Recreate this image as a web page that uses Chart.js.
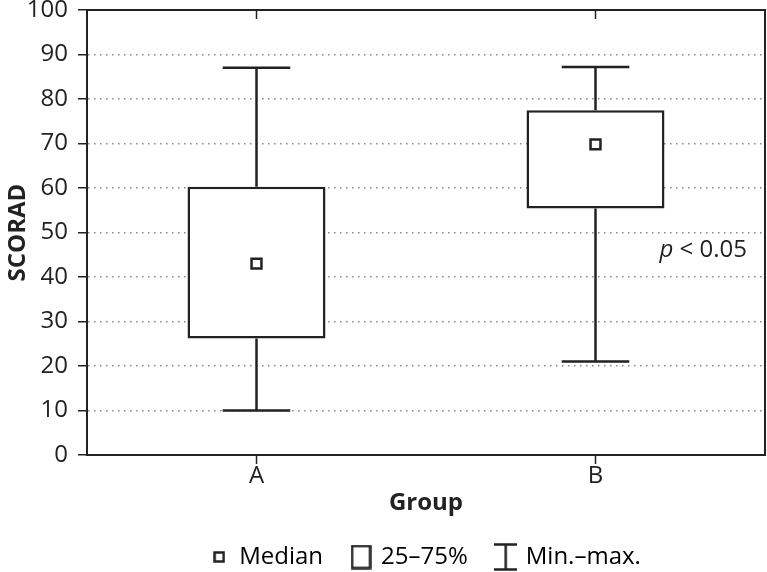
<!DOCTYPE html>
<html>
<head>
<meta charset="utf-8">
<script src="https://cdn.jsdelivr.net/npm/chart.js@4/dist/chart.umd.min.js"></script>
<style>
html,body{margin:0;padding:0;background:#fff;}
#wrap{width:767px;height:572px;position:relative;}
</style>
</head>
<body>
<div id="wrap"><canvas id="c" width="767" height="572"></canvas></div>
<script>
const categories = ['A', 'B'];
const minVals    = [10.0, 21.0];
const q1Vals     = [26.2, 55.4];
const medianVals = [43.0, 69.8];
const q3Vals     = [60.3, 77.5];
const maxVals    = [87.0, 87.2];
const yMin = 0, yMax = 100, yStep = 10;
const legendLabels = ['Median', '25\u201375%', 'Min.\u2013max.'];
const annotationText = ['p', ' < 0.05'];
const annotationValue = 46;

const INK = '#222';
const FONT = "'Open Sans', sans-serif";
const FS = 24;

function icon(w, h, draw) {
  const c = document.createElement('canvas');
  c.width = w; c.height = h;
  const g = c.getContext('2d');
  g.strokeStyle = INK; g.lineWidth = 2.5; g.fillStyle = '#fff';
  draw(g, w, h);
  return c;
}
const medIcon = icon(12, 12, (g) => { g.fillRect(0,0,12,12); g.strokeRect(1.5,1.5,9,9); });
const boxIcon = icon(21, 25, (g) => { g.fillRect(0,0,21,25); g.strokeRect(1.5,1.5,18,22); });
const whiskIcon = icon(23, 28, (g, w, h) => {
  g.beginPath();
  g.moveTo(0,1.5); g.lineTo(w,1.5);
  g.moveTo(w/2,1.5); g.lineTo(w/2,h-1.5);
  g.moveTo(0,h-1.5); g.lineTo(w,h-1.5);
  g.stroke();
});
const legendIcons = [medIcon, boxIcon, whiskIcon];

const whiskerPlugin = {
  id: 'whiskers',
  beforeDatasetsDraw(chart) {
    const ctx = chart.ctx, x = chart.scales.x, y = chart.scales.y;
    const meta = chart.getDatasetMeta(0);
    ctx.save();
    ctx.strokeStyle = INK; ctx.lineWidth = 2.5; ctx.lineCap = 'butt';
    categories.forEach((c, i) => {
      const cx = x.getPixelForValue(i);
      const bw = meta.data[i].width;
      const cw = bw * 0.49 / 2;
      const yMaxP = y.getPixelForValue(maxVals[i]);
      const yQ3 = y.getPixelForValue(q3Vals[i]);
      const yQ1 = y.getPixelForValue(q1Vals[i]);
      const yMinP = y.getPixelForValue(minVals[i]);
      ctx.beginPath();
      ctx.moveTo(cx, yMaxP); ctx.lineTo(cx, yQ3);
      ctx.moveTo(cx, yQ1); ctx.lineTo(cx, yMinP);
      ctx.moveTo(cx - cw, yMaxP); ctx.lineTo(cx + cw, yMaxP);
      ctx.moveTo(cx - cw, yMinP); ctx.lineTo(cx + cw, yMinP);
      ctx.stroke();
    });
    ctx.restore();
  },
  afterDraw(chart) {
    const ctx = chart.ctx, a = chart.chartArea, x = chart.scales.x, y = chart.scales.y;
    ctx.save();
    ctx.strokeStyle = INK; ctx.lineWidth = 2;
    ctx.beginPath();
    ctx.moveTo(a.left, a.top); ctx.lineTo(a.right, a.top); ctx.lineTo(a.right, a.bottom);
    ctx.stroke();
    ctx.lineWidth = 1.5;
    categories.forEach((c, i) => {
      const cx = x.getPixelForValue(i);
      ctx.beginPath(); ctx.moveTo(cx, a.top); ctx.lineTo(cx, a.top + 9); ctx.stroke();
    });
    ctx.fillStyle = INK;
    ctx.textBaseline = 'middle';
    ctx.textAlign = 'left';
    const yy = y.getPixelForValue(annotationValue);
    ctx.font = FS + "px " + FONT;
    const w2 = ctx.measureText(annotationText[1]).width;
    ctx.font = "italic " + FS + "px " + FONT;
    const w1 = ctx.measureText(annotationText[0]).width;
    const xEnd = a.right - 18;
    ctx.fillText(annotationText[0], xEnd - w1 - w2, yy);
    ctx.font = FS + "px " + FONT;
    ctx.fillText(annotationText[1], xEnd - w2, yy);
    ctx.restore();
  }
};

new Chart(document.getElementById('c'), {
  data: {
    labels: categories,
    datasets: [
      {
        type: 'bar',
        data: categories.map((c, i) => [q1Vals[i], q3Vals[i]]),
        backgroundColor: '#fff',
        borderColor: INK,
        borderWidth: 2.5,
        borderSkipped: false,
        barPercentage: 0.407,
        categoryPercentage: 1.0,
        order: 2
      },
      {
        type: 'line',
        data: medianVals,
        showLine: false,
        pointStyle: 'rect',
        pointRadius: 7,
        pointBorderWidth: 2.5,
        pointBackgroundColor: '#fff',
        pointBorderColor: INK,
        clip: false,
        order: 1
      }
    ]
  },
  options: {
    responsive: false,
    animation: false,
    devicePixelRatio: 1,
    layout: { autoPadding: false, padding: { top: 0, right: 2, left: 0, bottom: -7 } },
    plugins: {
      tooltip: { enabled: false },
      legend: {
        position: 'bottom',
        fullSize: false,
        labels: {
          usePointStyle: true,
          pointStyleWidth: 16,
          color: INK,
          font: { family: FONT, size: FS },
          padding: 30,
          generateLabels() {
            return legendLabels.map((t, i) => ({
              text: t, pointStyle: legendIcons[i], fillStyle: '#fff',
              strokeStyle: INK, lineWidth: 0, hidden: false, datasetIndex: i
            }));
          }
        }
      }
    },
    scales: {
      x: {
        type: 'category',
        offset: true,
        border: { color: INK, width: 2 },
        grid: { drawOnChartArea: false, tickLength: 9, tickColor: INK, tickWidth: 1.5, offset: false },
        ticks: { color: INK, font: { family: FONT, size: FS, lineHeight: 1.0 }, padding: 0 },
        title: { display: true, text: 'Group', color: INK, font: { family: FONT, size: FS, weight: 'bold', lineHeight: 1.0 }, padding: { top: 3, bottom: 0 } }
      },
      y: {
        min: yMin, max: yMax,
        afterFit(scale) { scale.width = 87; scale.paddingTop = 10; scale.paddingBottom = 10; },
        border: { color: INK, width: 2, dash: [1.5, 4.5] },
        grid: {
          color: '#888', lineWidth: 1.5,
          tickLength: 9, tickColor: INK, tickWidth: 1.5, tickBorderDash: []
        },
        ticks: { stepSize: yStep, color: INK, font: { family: FONT, size: FS, lineHeight: 0.83 }, padding: 10 },
        title: { display: true, text: 'SCORAD', color: INK, font: { family: FONT, size: FS, weight: 'bold', lineHeight: 1.0 }, padding: { top: 6, bottom: 0 } }
      }
    }
  },
  plugins: [whiskerPlugin]
});
</script>
</body>
</html>
